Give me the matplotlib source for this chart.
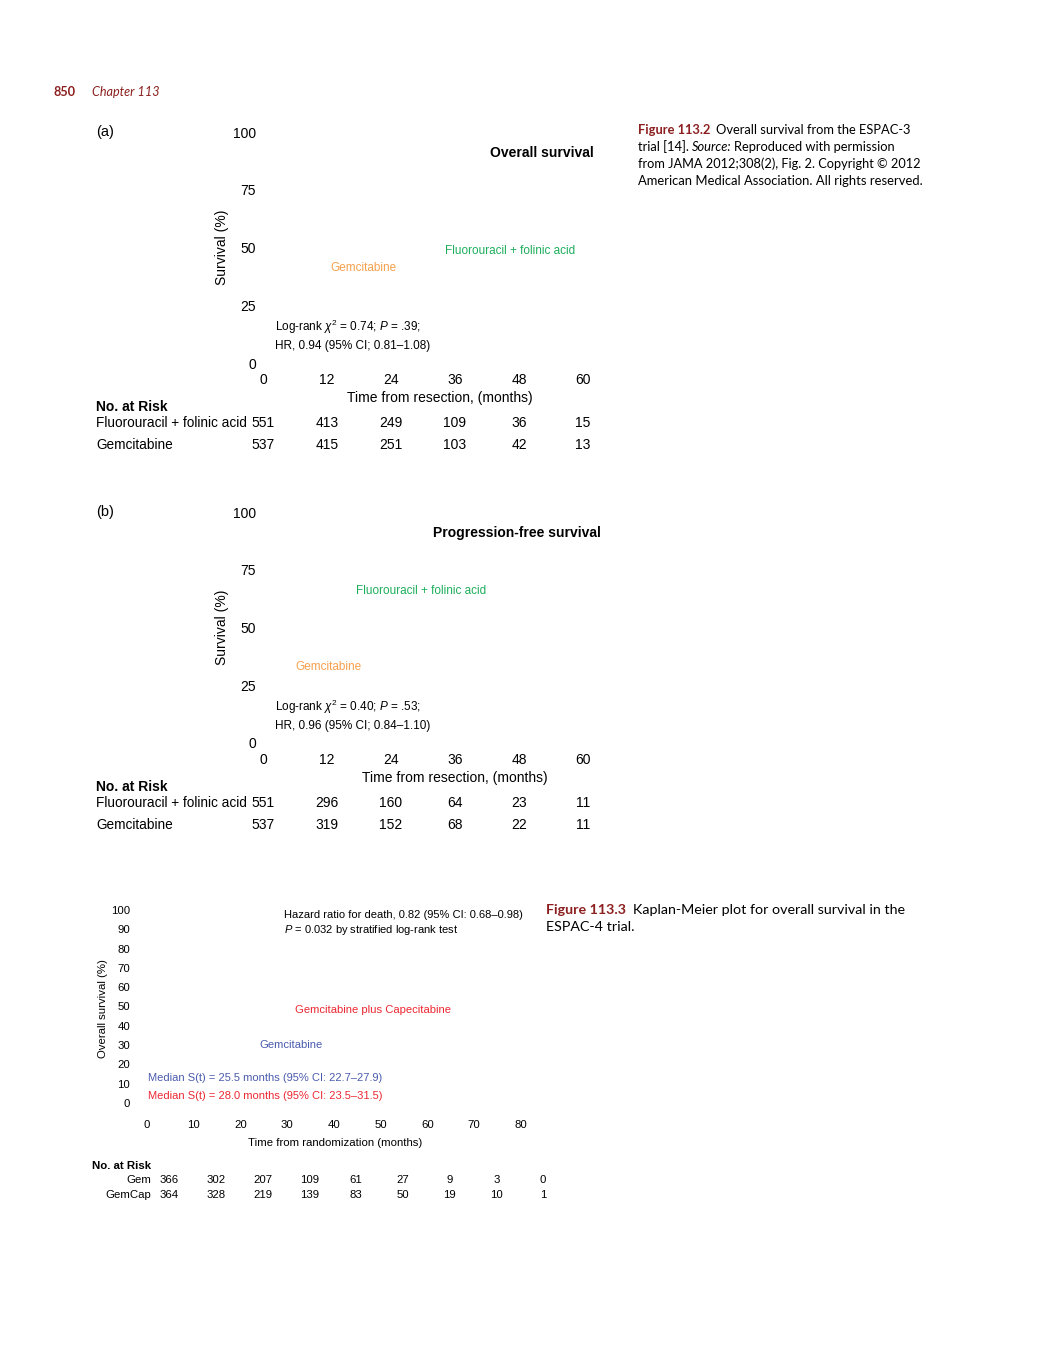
import matplotlib
matplotlib.use("Agg")
import matplotlib.pyplot as plt
import matplotlib.transforms as mtransforms

plt.rcParams['font.family'] = ['Liberation Sans', 'DejaVu Sans']
plt.rcParams['mathtext.fontset'] = 'custom'
plt.rcParams['mathtext.rm'] = 'Liberation Sans'
plt.rcParams['mathtext.it'] = 'Liberation Sans:italic'

# ESPAC-3 (Figure 113.2)
months_3 = [0, 12, 24, 36, 48, 60]
surv_ticks_3 = [0, 25, 50, 75, 100]
os_fu = [551, 413, 249, 109, 36, 15]
os_gem = [537, 415, 251, 103, 42, 13]
pfs_fu = [551, 296, 160, 64, 23, 11]
pfs_gem = [537, 319, 152, 68, 22, 11]

# ESPAC-4 (Figure 113.3)
months_4 = [0, 10, 20, 30, 40, 50, 60, 70, 80]
surv_ticks_4 = [0, 10, 20, 30, 40, 50, 60, 70, 80, 90, 100]
risk_gem = [366, 302, 207, 109, 61, 27, 9, 3, 0]
risk_gemcap = [364, 328, 219, 139, 83, 50, 19, 10, 1]

ORANGE = "#F6A04C"
GREEN = "#1DAE5C"
BLUE = "#4A5BAE"
RED = "#EC2832"
DARKRED = "#8C1F1F"
CAPFONT = ['Lato', 'DejaVu Sans']

W, H = 1045, 1350
fig = plt.figure(figsize=(W / 100, H / 100), dpi=100)
fig.patch.set_facecolor("white")


def fx(px):
    return px / W


def fy(py):
    return 1 - py / H


def make_ax(left, right, top, bottom):
    ax = fig.add_axes([fx(left), fy(bottom), (right - left) / W, (bottom - top) / H])
    ax.patch.set_visible(False)
    for s in ax.spines.values():
        s.set_visible(False)
    ax.tick_params(length=0)
    return ax


def runs(x, y, parts, size):
    r = fig.canvas.get_renderer()
    for txt, gap, kw in parts:
        t = fig.text(fx(x), fy(y), txt, fontsize=size, family=CAPFONT, va='baseline', **kw)
        x += t.get_window_extent(r).width + gap


def km_panel(top, bottom, tag, title, title_right, fu_xy, gem_xy, stats, xlabel_x, risk_fu, risk_gem):
    ax = make_ax(263, 583, top, bottom)
    ax.set_xlim(0, 60)
    ax.set_ylim(0, 100)
    ax.set_xticks(months_3)
    ax.set_yticks(surv_ticks_3)
    ax.tick_params(axis='x', pad=7.5, labelsize=10)
    ax.tick_params(axis='y', pad=5, labelsize=10)
    ax.set_ylabel("Survival (%)", fontsize=10)
    ax.yaxis.set_label_coords(-0.106, 0.5)
    ax.set_xlabel("Time from resection, (months)", fontsize=10)
    ax.xaxis.set_label_coords((xlabel_x - 263) / 320, -0.122)
    ax.text(fu_xy[0], fu_xy[1], "Fluorouracil + folinic acid", color=GREEN, fontsize=8.5, ha='center', va='center')
    ax.text(gem_xy[0], gem_xy[1], "Gemcitabine", color=ORANGE, fontsize=8.5, ha='center', va='center')
    ax.text(2.2, 15.6, stats[0], fontsize=8.5, va='center')
    ax.text(2.2, 7.2, stats[1], fontsize=8.5, va='center')
    fig.text(fx(title_right), fy(top + 21), title, fontsize=10, fontweight='bold', ha='right', va='center')
    fig.text(fx(96), fy(top), tag, fontsize=10.5, va='center')

    # numbers at risk
    tr = mtransforms.blended_transform_factory(ax.transData, fig.transFigure)
    fig.text(fx(96), fy(bottom + 44), "No. at Risk", fontsize=10, fontweight='bold', va='center')
    fig.text(fx(96), fy(bottom + 60), "Fluorouracil + folinic acid", fontsize=9.8, va='center')
    fig.text(fx(96), fy(bottom + 82), "Gemcitabine", fontsize=9.8, va='center')
    for m, a, b in zip(months_3, risk_fu, risk_gem):
        ax.text(m, fy(bottom + 60), str(a), transform=tr, fontsize=10, ha='center', va='center')
        ax.text(m, fy(bottom + 82), str(b), transform=tr, fontsize=10, ha='center', va='center')


km_panel(132, 363, "(a)", "Overall survival", 594, (46.3, 48.5), (18.9, 41),
         [r"Log-rank $\chi^2$ = 0.74; $P$ = .39;", "HR, 0.94 (95% CI; 0.81\u20131.08)"],
         440, os_fu, os_gem)
km_panel(512, 743, "(b)", "Progression-free survival", 601, (29.6, 65.8), (12.2, 32.9),
         [r"Log-rank $\chi^2$ = 0.40; $P$ = .53;", "HR, 0.96 (95% CI; 0.84\u20131.10)"],
         455, pfs_fu, pfs_gem)

# ESPAC-4 panel
ax = make_ax(147, 521, 910, 1103)
ax.set_xlim(0, 80)
ax.set_ylim(0, 100)
ax.set_xticks(months_4)
ax.set_yticks(surv_ticks_4)
ax.tick_params(axis='x', pad=12, labelsize=8.2)
ax.tick_params(axis='y', pad=12, labelsize=8.2)
ax.set_ylabel("Overall survival (%)", fontsize=8.2)
ax.yaxis.set_label_coords(-0.105, 0.487)
ax.set_xlabel("Time from randomization (months)", fontsize=8.2)
ax.xaxis.set_label_coords(0.503, -0.183)
ax.text(29.3, 97.4, "Hazard ratio for death, 0.82 (95% CI: 0.68\u20130.98)", fontsize=8, va='center')
ax.text(29.3, 89.6, r"$P$ = 0.032 by stratified log-rank test", fontsize=8, va='center')
ax.text(48.4, 48.2, "Gemcitabine plus Capecitabine", color=RED, fontsize=8.1, ha='center', va='center')
ax.text(30.8, 30, "Gemcitabine", color=BLUE, fontsize=8.1, ha='center', va='center')
ax.text(0.2, 13, "Median S(t) = 25.5 months (95% CI: 22.7\u201327.9)", color=BLUE, fontsize=8, va='center')
ax.text(0.2, 3.6, "Median S(t) = 28.0 months (95% CI: 23.5\u201331.5)", color=RED, fontsize=8, va='center')

shift = mtransforms.ScaledTranslation(22 / 100, 0, fig.dpi_scale_trans)
tr4 = mtransforms.blended_transform_factory(ax.transData, fig.transFigure) + shift
fig.text(fx(92), fy(1166), "No. at Risk", fontsize=8.2, fontweight='bold', va='center')
fig.text(fx(151), fy(1180), "Gem", fontsize=8.2, ha='right', va='center')
fig.text(fx(151), fy(1195), "GemCap", fontsize=8.2, ha='right', va='center')
for m, a, b in zip(months_4, risk_gem, risk_gemcap):
    ax.text(m, fy(1180), str(a), transform=tr4, fontsize=8.2, ha='center', va='center')
    ax.text(m, fy(1195), str(b), transform=tr4, fontsize=8.2, ha='center', va='center')

# page header and captions
runs(54, 96, [("850", 16, dict(color=DARKRED, fontweight='bold')),
              ("Chapter 113", 0, dict(color=DARKRED, style='italic'))], 9.1)
runs(638, 134, [("Figure 113.2", 6, dict(color=DARKRED, fontweight='bold')),
                ("Overall survival from the ESPAC-3", 0, {})], 9.3)
runs(638, 151, [("trial [14].", 3, {}), ("Source:", 3, dict(style='italic')),
                ("Reproduced with permission", 0, {})], 9.3)
runs(638, 168, [("from JAMA 2012;308(2), Fig. 2. Copyright \u00a9 2012", 0, {})], 9.15)
runs(638, 185, [("American Medical Association. All rights reserved.", 0, {})], 9.35)
runs(546, 914, [("Figure 113.3", 7, dict(color=DARKRED, fontweight='bold')),
                ("Kaplan-Meier plot for overall survival in the", 0, {})], 10.25)
runs(546, 931, [("ESPAC-4 trial.", 0, {})], 10.25)

fig.savefig("out.png", dpi=100, facecolor="white")
